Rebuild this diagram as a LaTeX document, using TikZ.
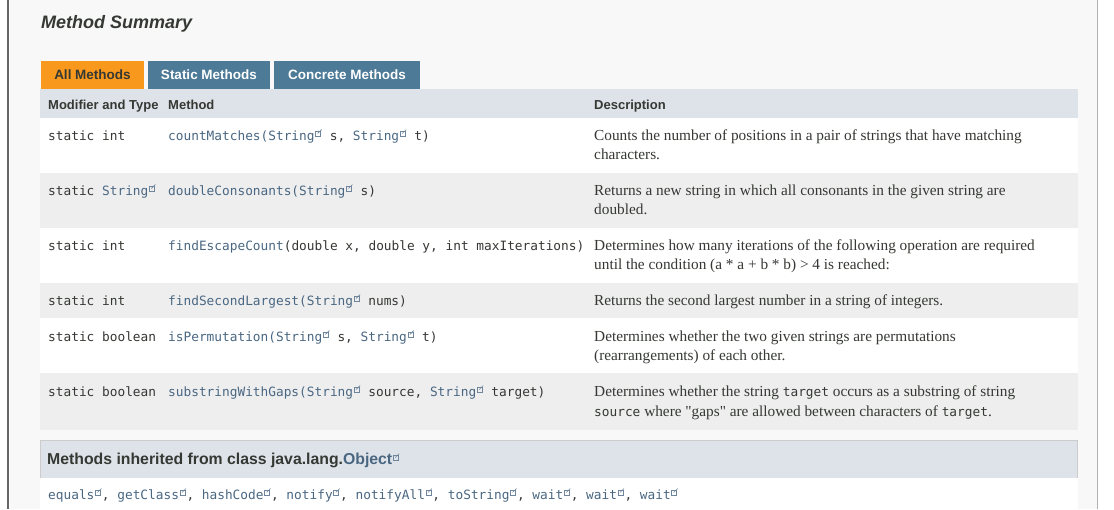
\documentclass[tikz,border=0pt]{standalone}
\usepackage{fontspec}
\setmainfont{Liberation Serif}
\setsansfont{Liberation Sans}
\setmonofont{DejaVu Sans Mono}
\definecolor{panel}{HTML}{F8F8F8}
\definecolor{hdr}{HTML}{DEE3E9}
\definecolor{alt}{HTML}{EEEEEF}
\definecolor{tabor}{HTML}{F8981D}
\definecolor{tabbl}{HTML}{4D7A97}
\definecolor{lnk}{HTML}{4A6782}
\definecolor{txt}{HTML}{353833}
\newcommand{\xl}{\tikz[baseline=0pt,x=1pt,y=1pt,line width=0.6pt]{\path (-0.5,0) (7,0);\draw[lnk!80] (0.5,4) rectangle (5.5,9);\draw[lnk!80] (2.5,6.5)--(6.5,10.5);}}
\newcommand{\cs}[1]{\textcolor{lnk}{#1}}
\newcommand{\mt}[1]{{\ttfamily\fontsize{12.8}{14}\selectfont #1}}
\begin{document}
\begin{tikzpicture}[x=1pt,y=-1pt,
  mono/.style={anchor=base west,inner sep=0,font=\ttfamily\fontsize{12.8}{14}\selectfont,text=txt},
  desc/.style={anchor=base west,inner sep=0,font=\fontsize{15.3}{19}\selectfont,text=txt},
  hd/.style={anchor=base west,inner sep=0,font=\sffamily\bfseries\fontsize{13}{15}\selectfont,text=txt},
  tab/.style={anchor=center,inner sep=0,font=\sffamily\bfseries\fontsize{13.5}{15}\selectfont}]
\useasboundingbox (0,0) rectangle (1114,509);
\fill[white] (0,0) rectangle (1114,509);
\fill[panel] (10,0) rectangle (1097,509);
\draw[gray!60,line width=0.8pt] (1097.5,0)--(1097.5,509);
\fill[gray!80!black] (7,0) rectangle (9,509);
\node[anchor=base west,inner sep=0,font=\sffamily\bfseries\itshape\fontsize{18}{20}\selectfont,text=txt] (title) at (41,28) {Method Summary};
% tabs
\fill[tabor] (41,61) rectangle (144,89);
\fill[tabbl] (148,61) rectangle (270,89);
\fill[tabbl] (274,61) rectangle (420,89);
\node[tab,text=txt] (t1) at (92.5,75) {All Methods};
\node[tab,text=white] (t2) at (209,75) {Static Methods};
\node[tab,text=white] (t3) at (347,75) {Concrete Methods};
% table
\fill[hdr] (40,89) rectangle (1078,118);
\fill[white] (40,118) rectangle (1078,173);
\fill[alt] (40,173) rectangle (1078,228);
\fill[white] (40,228) rectangle (1078,283);
\fill[alt] (40,283) rectangle (1078,318);
\fill[white] (40,318) rectangle (1078,373);
\fill[alt] (40,373) rectangle (1078,430);
\node[hd] (h1) at (48,109) {Modifier and Type};
\node[hd] (h2) at (168,109) {Method};
\node[hd] (h3) at (594,109) {Description};
% rows
\node[mono] (m1) at (48,140) {static int};
\node[mono] (n1) at (168,140) {\cs{countMatches(String}\xl{} s, \cs{String}\xl{} t)};
\node[desc] (d1) at (594,140) {Counts the number of positions in a pair of strings that have matching};
\node[desc] (d1b) at (594,159) {characters.};
\node[mono] (m2) at (48,195) {static \cs{String}\xl};
\node[mono] (n2) at (168,195) {\cs{doubleConsonants(String}\xl{} s)};
\node[desc] (d2) at (594,195) {Returns a new string in which all consonants in the given string are};
\node[desc] (d2b) at (594,214) {doubled.};
\node[mono] (m3) at (48,250) {static int};
\node[mono] (n3) at (168,250) {\cs{findEscapeCount}(double x, double y, int maxIterations)};
\node[desc] (d3) at (594,250) {Determines how many iterations of the following operation are required};
\node[desc] (d3b) at (594,269) {until the condition (a * a + b * b) > 4 is reached:};
\node[mono] (m4) at (48,305) {static int};
\node[mono] (n4) at (168,305) {\cs{findSecondLargest(String}\xl{} nums)};
\node[desc] (d4) at (594,305) {Returns the second largest number in a string of integers.};
\node[mono] (m5) at (48,341) {static boolean};
\node[mono] (n5) at (168,341) {\cs{isPermutation(String}\xl{} s, \cs{String}\xl{} t)};
\node[desc] (d5) at (594,341) {Determines whether the two given strings are permutations};
\node[desc] (d5b) at (594,360) {(rearrangements) of each other.};
\node[mono] (m6) at (48,396) {static boolean};
\node[mono] (n6) at (168,396) {\cs{substringWithGaps(String}\xl{} source, \cs{String}\xl{} target)};
\node[desc] (d6) at (594,396) {Determines whether the string \mt{target} occurs as a substring of string};
\node[desc] (d6b) at (594,416) {\mt{source} where \textquotedbl gaps\textquotedbl{} are allowed between characters of \mt{target}.};
% inherited
\fill[hdr] (40,440) rectangle (1078,478);
\draw[gray!40] (40.5,440.5) rectangle (1077.5,478);
\fill[white] (40,478) rectangle (1078,509);
\node[anchor=base west,inner sep=0,font=\sffamily\bfseries\fontsize{15.8}{17}\selectfont,text=txt] (inh) at (47,464) {Methods inherited from class java.lang.\textcolor{lnk}{Object}\xl};
\node[mono] (il) at (48,499) {\cs{equals}\xl, \cs{getClass}\xl, \cs{hashCode}\xl, \cs{notify}\xl, \cs{notifyAll}\xl, \cs{toString}\xl, \cs{wait}\xl, \cs{wait}\xl, \cs{wait}\xl};
\end{tikzpicture}
\end{document}
